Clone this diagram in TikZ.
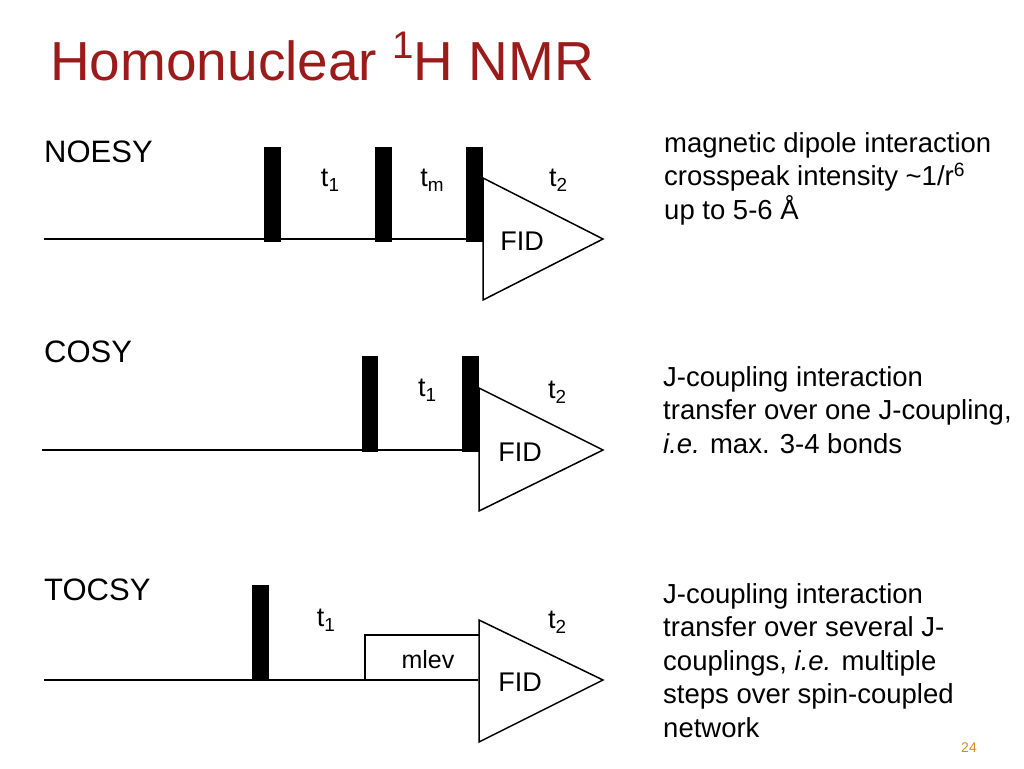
\documentclass[tikz,border=0pt]{standalone}
\usepackage{fontspec}
\setmainfont{Liberation Sans}
\definecolor{ttl}{HTML}{9B1B1B}
\definecolor{pg}{HTML}{D98C1A}
\newcommand{\mysub}[1]{\raisebox{-0.2em}{\scalebox{0.7}{#1}}}
\newcommand{\mysup}[1]{\raisebox{0.4em}{\scalebox{0.7}{#1}}}
\begin{document}
\begin{tikzpicture}[x=1pt,y=-1pt,
  pulse/.style={fill=black,draw=none},
  ln/.style={line width=2.5pt},
  lbl/.style={font=\fontsize{27}{34}\selectfont,inner sep=0pt},
  side/.style={font=\fontsize{27.5}{33.5}\selectfont,align=left,inner sep=0pt,anchor=north west},
  seq/.style={font=\fontsize{31}{40}\selectfont,inner sep=0pt,anchor=north west}]
\useasboundingbox (0,0) rectangle (1024,768);
\node[inner sep=0pt,anchor=base west,text=ttl,font=\fontsize{55}{60}\selectfont] (title) at (50,80) {Homonuclear \mysup{1}H NMR};
% NOESY
\node[seq] (n1) at (44,141) {NOESY};
\draw[ln] (44,239) coordinate (a0) -- (466,239) coordinate (a1);
\fill[pulse] (264,147) rectangle (281,242);
\fill[pulse] (375,147) rectangle (392,242);
\fill[pulse] (466,147) rectangle (483,242);
\draw[line width=1.5pt,line join=miter] (483,178) coordinate (ta) -- (603,239) coordinate (tb) -- (483,300) coordinate (tc) -- cycle;
\node[lbl] (nt1) at (330,180) {t\mysub{1}};
\node[lbl] (ntm) at (432,180) {t\mysub{m}};
\node[lbl] (nt2) at (558,180) {t\mysub{2}};
\node[lbl] (nf) at (522,241) {FID};
\node[side] (s1) at (664,132) {magnetic dipole interaction\\crosspeak intensity \textasciitilde1/r\textsuperscript{6}\\up to 5-6 Å};
% COSY
\node[seq] (c1) at (44,341) {COSY};
\draw[ln] (42,450) coordinate (b0) -- (462,450) coordinate (b1);
\fill[pulse] (362,356) rectangle (378,452);
\fill[pulse] (462,356) rectangle (479,452);
\draw[line width=1.5pt,line join=miter] (479,388) coordinate (ua) -- (603,450) coordinate (ub) -- (479,511) coordinate (uc) -- cycle;
\node[lbl] (ct1) at (427,390) {t\mysub{1}};
\node[lbl] (ct2) at (557,392) {t\mysub{2}};
\node[lbl] (cf) at (520,452) {FID};
\node[side] (s2) at (663,366) {J-coupling interaction\\transfer over one J-coupling,\\\textit{i.e.} max. 3-4 bonds};
% TOCSY
\node[seq] (tt) at (44,579) {TOCSY};
\draw[ln] (44,680) coordinate (c0) -- (478,680) coordinate (c1);
\fill[pulse] (252,585) rectangle (269,681);
\draw[line width=1.5pt] (365,680) coordinate (m0) -- (365,635) -- (479,635);
\draw[line width=1.5pt,line join=miter] (479,620) coordinate (va) -- (603,680) coordinate (vb) -- (479,742) coordinate (vc) -- cycle;
\node[lbl] (tt1) at (326,620) {t\mysub{1}};
\node[lbl] (tt2) at (557,622) {t\mysub{2}};
\node[lbl,font=\fontsize{25}{30}\selectfont] (tm) at (428,660) {mlev};
\node[lbl] (tf) at (520,682) {FID};
\node[side] (s3) at (663,583) {J-coupling interaction\\transfer over several J-\\couplings, \textit{i.e.} multiple\\steps over spin-coupled\\network};
\node[inner sep=0pt,text=pg,font=\fontsize{14}{16}\selectfont] (pn) at (969,748) {24};
\end{tikzpicture}
\end{document}
